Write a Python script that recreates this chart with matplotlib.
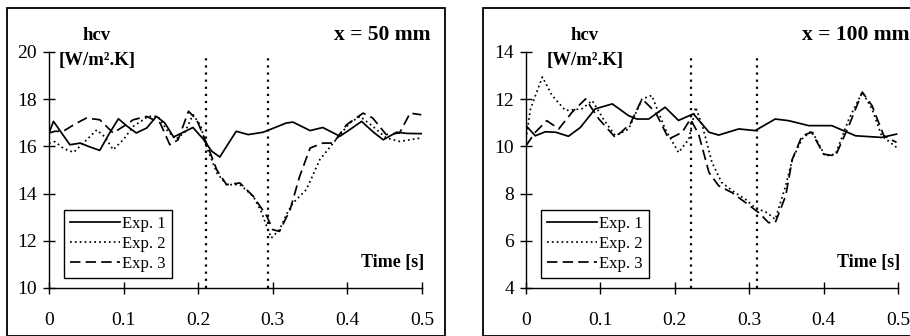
import matplotlib
matplotlib.use("Agg")
import matplotlib.pyplot as plt
from matplotlib.patches import Rectangle

plt.rcParams['font.family'] = ['Liberation Serif', 'DejaVu Serif']

# ---- x = 50 mm panel ----
t1_a = [0, 0.006, 0.028, 0.042, 0.053, 0.068, 0.080, 0.093, 0.105, 0.117, 0.131, 0.144, 0.155,
        0.167, 0.180, 0.193, 0.207, 0.218, 0.229, 0.240, 0.251, 0.267, 0.287, 0.303, 0.318,
        0.327, 0.350, 0.367, 0.390, 0.405, 0.419, 0.435, 0.448, 0.466, 0.480, 0.499]
h1_a = [16.57, 17.06, 16.07, 16.14, 16.0, 15.83, 16.5, 17.17, 16.85, 16.57, 16.78, 17.27, 17.0,
        16.4, 16.6, 16.8, 16.3, 15.8, 15.55, 16.1, 16.64, 16.5, 16.6, 16.8, 16.99,
        17.03, 16.67, 16.8, 16.43, 16.75, 17.06, 16.6, 16.28, 16.6, 16.55, 16.54]

t2_a = [0, 0.008, 0.020, 0.033, 0.048, 0.064, 0.075, 0.086, 0.100, 0.113, 0.133, 0.146, 0.158,
        0.170, 0.182, 0.193, 0.203, 0.211, 0.225, 0.238, 0.256, 0.274, 0.285, 0.292, 0.298,
        0.309, 0.318, 0.327, 0.345, 0.363, 0.381, 0.403, 0.417, 0.434, 0.452, 0.470, 0.499]
h2_a = [16.14, 16.2, 15.9, 15.75, 16.2, 16.7, 16.4, 15.86, 16.3, 16.85, 17.27, 17.27, 16.7,
        16.3, 16.6, 17.34, 16.9, 16.0, 14.87, 14.38, 14.38, 13.88, 13.2, 12.6, 12.12,
        12.47, 13.1, 13.6, 14.17, 15.44, 16.14, 16.99, 17.27, 16.85, 16.36, 16.21, 16.36]

t3_a = [0, 0.008, 0.019, 0.035, 0.050, 0.068, 0.086, 0.100, 0.113, 0.131, 0.149, 0.162, 0.173,
        0.187, 0.198, 0.211, 0.225, 0.238, 0.256, 0.274, 0.292, 0.300, 0.309, 0.323, 0.336,
        0.350, 0.367, 0.381, 0.399, 0.421, 0.434, 0.452, 0.470, 0.484, 0.499]
h3_a = [16.57, 16.64, 16.64, 16.95, 17.2, 17.13, 16.57, 16.85, 17.13, 17.27, 16.99, 16.07, 16.28,
        17.49, 17.13, 16.14, 15.0, 14.38, 14.45, 13.88, 13.04, 12.47, 12.4, 13.3, 14.73,
        15.93, 16.14, 16.14, 16.92, 17.41, 17.2, 16.5, 16.57, 17.41, 17.34]

# ---- x = 100 mm panel ----
t1_b = [0, 0.0125, 0.026, 0.040, 0.057, 0.073, 0.093, 0.116, 0.138, 0.149, 0.165, 0.187, 0.205,
        0.225, 0.246, 0.259, 0.286, 0.308, 0.335, 0.353, 0.380, 0.411, 0.443, 0.478, 0.498]
h1_b = [10.88, 10.45, 10.62, 10.6, 10.43, 10.8, 11.59, 11.8, 11.3, 11.16, 11.16, 11.66, 11.1,
        11.38, 10.6, 10.48, 10.74, 10.67, 11.16, 11.09, 10.88, 10.88, 10.45, 10.38, 10.52]

t2_b = [0, 0.006, 0.022, 0.035, 0.053, 0.075, 0.089, 0.104, 0.120, 0.138, 0.156, 0.169, 0.187,
        0.205, 0.219, 0.228, 0.237, 0.250, 0.263, 0.281, 0.295, 0.308, 0.324, 0.335, 0.349,
        0.358, 0.371, 0.384, 0.402, 0.416, 0.434, 0.452, 0.465, 0.478, 0.498]
h2_b = [10.31, 11.59, 12.94, 12.16, 11.52, 11.59, 11.94, 11.16, 10.45, 10.74, 12.01, 12.16, 10.74,
        9.74, 10.31, 11.66, 10.88, 9.32, 8.47, 8.04, 7.76, 7.4, 7.19, 6.91, 8.33,
        9.46, 10.31, 10.67, 9.6, 9.67, 11.16, 12.3, 11.59, 10.45, 9.96]

t3_b = [0, 0.0125, 0.028, 0.044, 0.062, 0.080, 0.098, 0.120, 0.140, 0.156, 0.174, 0.192, 0.210,
        0.221, 0.232, 0.246, 0.259, 0.277, 0.295, 0.313, 0.326, 0.335, 0.349, 0.358, 0.371,
        0.384, 0.400, 0.416, 0.434, 0.452, 0.465, 0.481, 0.498]
h3_b = [10.03, 10.6, 11.09, 10.74, 11.45, 12.01, 11.16, 10.38, 10.95, 12.01, 11.45, 10.31, 10.6,
        11.16, 10.52, 8.89, 8.33, 8.04, 7.62, 7.19, 6.77, 6.77, 7.9, 9.46, 10.45,
        10.6, 9.67, 9.6, 10.88, 12.3, 11.73, 10.45, 10.17]

panels = [
    dict(series=[(t1_a, h1_a), (t2_a, h2_a), (t3_a, h3_a)], ylim=(10, 20), yticks=[10, 12, 14, 16, 18, 20],
         vlines=[0.21, 0.293], vtop=19.9, title="x = 50 mm"),
    dict(series=[(t1_b, h1_b), (t2_b, h2_b), (t3_b, h3_b)], ylim=(4, 14), yticks=[4, 6, 8, 10, 12, 14],
         vlines=[0.222, 0.311], vtop=13.8, title="x = 100 mm"),
]
xticks = [0, 0.1, 0.2, 0.3, 0.4, 0.5]
xlabels = ["0", "0.1", "0.2", "0.3", "0.4", "0.5"]
names = ["Exp. 1", "Exp. 2", "Exp. 3"]
styles = ['-', (0, (1, 1.8)), (0, (6, 3))]

W, H = 910, 336
fig = plt.figure(figsize=(W / 100, H / 100), dpi=100)

# outer frames of each chart (pixel coords -> figure fraction)
for x0, x1 in [(7, 445), (483, 915)]:
    fig.patches.append(Rectangle((x0 / W, 0), (x1 - x0) / W, 1 - 8 / H, transform=fig.transFigure,
                                 fill=False, edgecolor='black', linewidth=1.3))

axes_px = [(49, 422), (526, 898)]
for (px0, px1), p in zip(axes_px, panels):
    ax = fig.add_axes([px0 / W, 1 - 288 / H, (px1 - px0) / W, (288 - 52) / H])
    for (t, h), ls, nm in zip(p['series'], styles, names):
        ax.plot(t, h, color='black', linestyle=ls, linewidth=1.25, label=nm)
    for v in p['vlines']:
        ax.plot([v, v], [p['ylim'][0], p['vtop']], color='black', linestyle=(0, (1, 2.2)), linewidth=1.6)
    ax.set_xlim(0, 0.5)
    ax.set_ylim(*p['ylim'])
    ax.set_xticks(xticks)
    ax.set_xticklabels(xlabels)
    ax.set_yticks(p['yticks'])
    ax.spines['top'].set_visible(False)
    ax.spines['right'].set_visible(False)
    ax.spines['left'].set_linewidth(1.0)
    ax.spines['bottom'].set_linewidth(1.0)
    ax.tick_params(direction='inout', length=9, width=1.0, labelsize=14)
    ax.tick_params(axis='x', pad=13)
    ax.tick_params(axis='y', pad=4)
    ax.set_facecolor('none')
    leg = ax.legend(loc='lower left', bbox_to_anchor=(0.04, 0.042), borderaxespad=0, fancybox=False,
                    framealpha=1, edgecolor='black', fontsize=12, handlelength=3.0, handletextpad=0.15,
                    labelspacing=0.25, borderpad=0.35)
    leg.get_frame().set_linewidth(1.0)
    ax.text(1.005, 0.11, "Time [s]", transform=ax.transAxes, ha='right', va='center',
            fontsize=13, fontweight='bold')

fig.text(97 / W, 1 - 35 / H, "hcv", ha='center', va='center', fontsize=13.5, fontweight='bold')
fig.text(97 / W, 1 - 60 / H, "[W/m².K]", ha='center', va='center', fontsize=13.5, fontweight='bold')
fig.text(430 / W, 1 - 35 / H, "x = 50 mm", ha='right', va='center', fontsize=15.5, fontweight='bold')
fig.text(585 / W, 1 - 35 / H, "hcv", ha='center', va='center', fontsize=13.5, fontweight='bold')
fig.text(585 / W, 1 - 60 / H, "[W/m².K]", ha='center', va='center', fontsize=13.5, fontweight='bold')
fig.text(802 / W, 1 - 35 / H, "x = 100 mm", ha='left', va='center', fontsize=15.5, fontweight='bold')

fig.savefig("out.png", dpi=100, facecolor='white')
